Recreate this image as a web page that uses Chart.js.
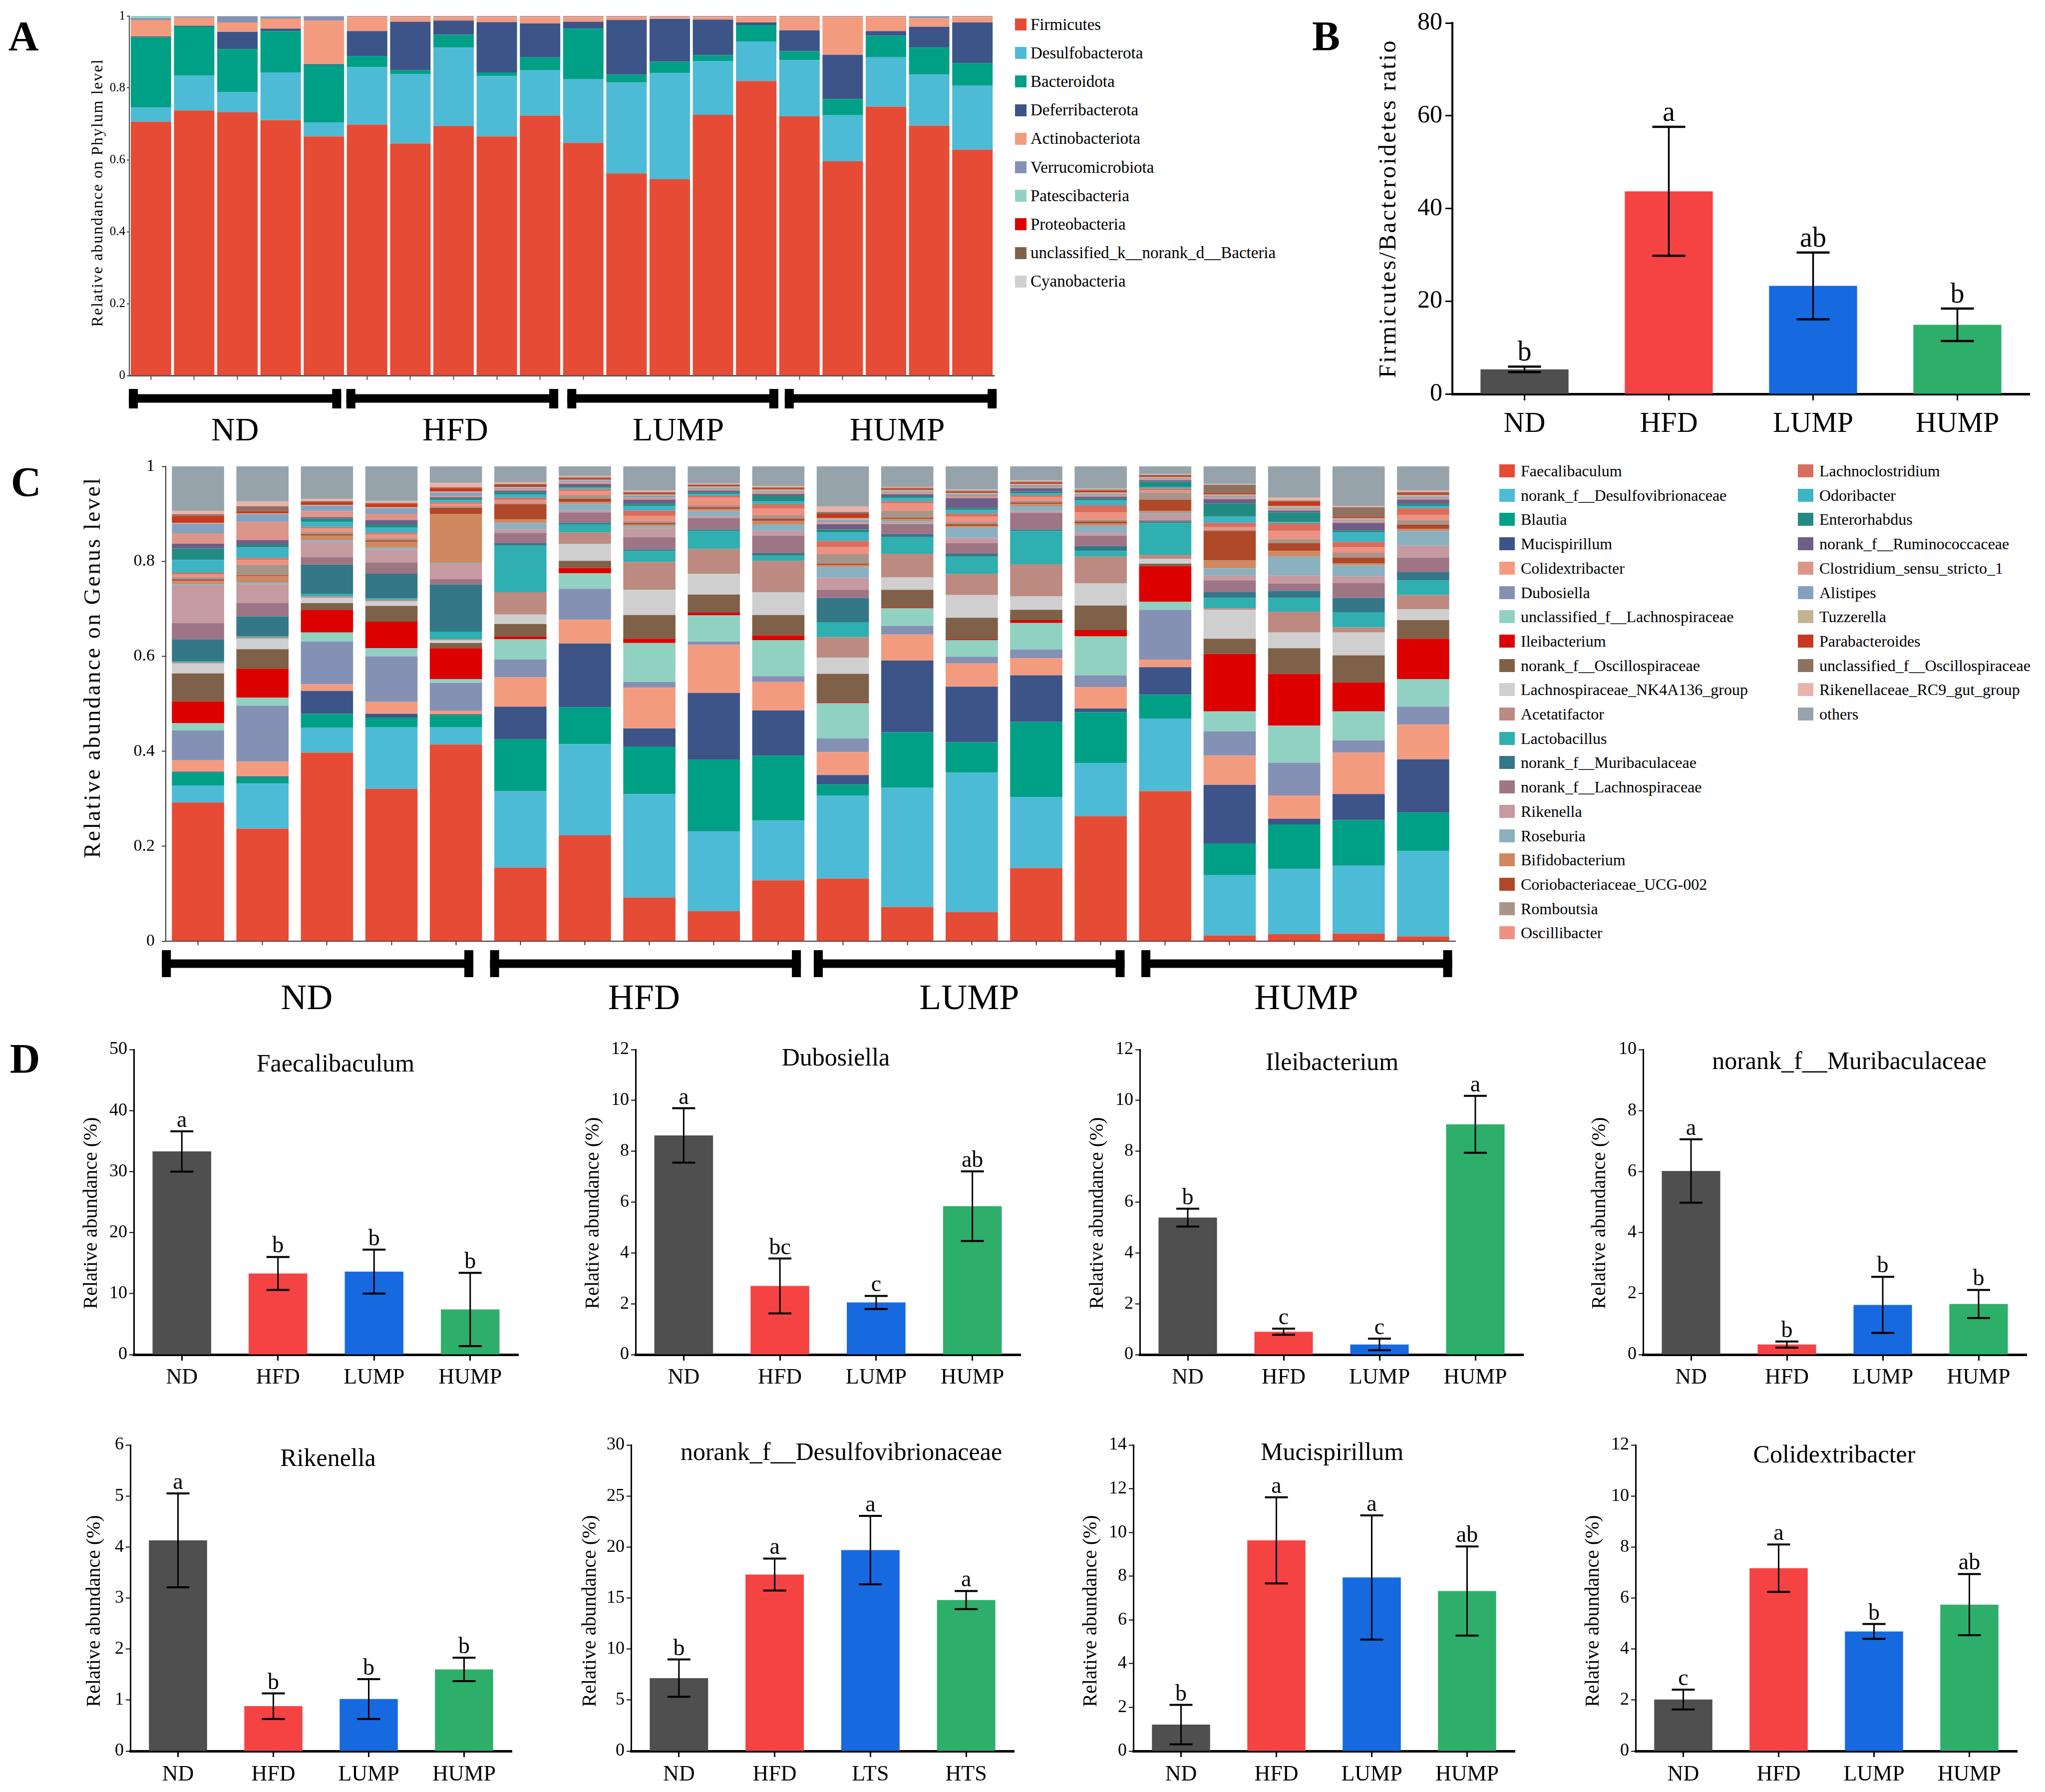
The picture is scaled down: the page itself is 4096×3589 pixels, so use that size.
<!DOCTYPE html>
<html><head><meta charset="utf-8"><title>Gut microbiota composition</title>
<script src="https://cdn.jsdelivr.net/npm/chart.js@4.4.1/dist/chart.umd.min.js"></script>
<style>
html,body{margin:0;padding:0;background:#fff}
body{position:relative;width:4096px;height:3589px;overflow:hidden;font-family:"Liberation Serif","Times New Roman",serif;color:#000}
canvas{position:absolute}
.t{position:absolute;white-space:nowrap;line-height:1}
.c{transform:translate(-50%,-50%)}
.sw{position:absolute}
</style></head><body>
<script>
// ---------------- DATA ----------------
const SAMPLES = ['ND1','ND2','ND3','ND4','ND5','HFD1','HFD2','HFD3','HFD4','HFD5','LUMP1','LUMP2','LUMP3','LUMP4','LUMP5','HUMP1','HUMP2','HUMP3','HUMP4','HUMP5'];
const GROUPS = ['ND','HFD','LUMP','HUMP'];
const SAMPLES_PER_GROUP = 5;

// Panel A – phylum level
const PHYLUM_NAMES = ['Firmicutes','Desulfobacterota','Bacteroidota','Deferribacterota','Actinobacteriota','Verrucomicrobiota','Patescibacteria','Proteobacteria','unclassified_k__norank_d__Bacteria','Cyanobacteria'];
const PHYLUM_COLORS = ['#E64B35','#4DBBD5','#00A087','#3C5488','#F39B7F','#8491B4','#91D1C2','#DC0000','#7E6148','#CFCFCF'];
const phy_Firmicutes   = [.706,.737,.732,.710,.665,.698,.645,.694,.665,.723,.647,.562,.546,.725,.819,.721,.596,.748,.695,.628];
const phy_Desulfo      = [.039,.097,.057,.133,.039,.160,.194,.218,.168,.126,.177,.253,.295,.150,.110,.156,.128,.137,.142,.179];
const phy_Bacteroidota = [.196,.137,.119,.115,.160,.030,.010,.036,.010,.036,.141,.022,.032,.016,.046,.025,.045,.060,.075,.062];
const phy_Deferri      = [.002,.002,.048,.007,.002,.070,.135,.039,.140,.094,.019,.152,.119,.099,.007,.058,.123,.013,.058,.113];
const phy_Actino       = [.046,.023,.026,.028,.121,.039,.013,.010,.014,.018,.013,.008,.005,.007,.015,.037,.105,.039,.024,.015];
const phy_Verruco      = [.005,.002,.017,.005,.012,.001,.001,.001,.001,.001,.001,.001,.001,.001,.001,.001,.001,.001,.005,.001];
const phy_Patesci      = [.006,.002,.001,.002,.001,.001,.001,.001,.001,.001,.001,.001,.001,.001,.001,.001,.001,.001,.001,.001];
const phy_Proteo       = [.000,.000,.000,.000,.000,.001,.001,.001,.001,.001,.001,.001,.001,.001,.001,.001,.001,.001,.000,.001];
const phy_Unclass      = [.000,.000,.000,.000,.000,.000,.000,.000,.000,.000,.000,.000,.000,.000,.000,.000,.000,.000,.000,.000];
const phy_Cyano        = [.000,.000,.000,.000,.000,.000,.000,.000,.000,.000,.000,.000,.000,.000,.000,.000,.000,.000,.000,.000];
const PHYLUM_VALUES = [phy_Firmicutes,phy_Desulfo,phy_Bacteroidota,phy_Deferri,phy_Actino,phy_Verruco,phy_Patesci,phy_Proteo,phy_Unclass,phy_Cyano];
const PHYLUM_TICKS = [0,0.2,0.4,0.6,0.8,1];

// Panel B – Firmicutes/Bacteroidetes ratio
const FB_GROUPS = ['ND','HFD','LUMP','HUMP'];
const FB_MEAN = [5.3,43.7,23.3,14.9];
const FB_SD = [0.6,13.9,7.2,3.5];
const FB_LETTERS = ['b','a','ab','b'];
const FB_TICKS = [0,20,40,60,80];

// Panel C – genus level
const GENUS_NAMES = ['Faecalibaculum','norank_f__Desulfovibrionaceae','Blautia','Mucispirillum','Colidextribacter','Dubosiella','unclassified_f__Lachnospiraceae','Ileibacterium','norank_f__Oscillospiraceae','Lachnospiraceae_NK4A136_group','Acetatifactor','Lactobacillus','norank_f__Muribaculaceae','norank_f__Lachnospiraceae','Rikenella','Roseburia','Bifidobacterium','Coriobacteriaceae_UCG-002','Romboutsia','Oscillibacter','Lachnoclostridium','Odoribacter','Enterorhabdus','norank_f__Ruminococcaceae','Clostridium_sensu_stricto_1','Alistipes','Tuzzerella','Parabacteroides','unclassified_f__Oscillospiraceae','Rikenellaceae_RC9_gut_group','others'];
const GENUS_COLORS = ['#E64B35','#4DBBD5','#00A087','#3C5488','#F39B7F','#8491B4','#91D1C2','#DC0000','#7E6148','#CFCFCF','#BC8A80','#2FAFAF','#347787','#9E7585','#C59AA0','#8BB0C0','#D08860','#B0482A','#A8958A','#EE9180','#D96E5E','#3CB4C3','#238A82','#6E5E88','#DE9589','#84A2BF','#C2B393','#C8371E','#8D7262','#E8B3AA','#97A3AB'];
const gen_Faecalibaculum   = [.292,.237,.397,.321,.414,.155,.223,.092,.063,.128,.132,.072,.061,.154,.263,.316,.012,.015,.016,.010];
const gen_Desulfovibrionaceae = [.036,.095,.053,.130,.037,.161,.192,.218,.168,.126,.175,.252,.294,.150,.112,.153,.127,.137,.143,.180];
const gen_Blautia          = [.027,.014,.029,.020,.025,.109,.078,.100,.151,.137,.023,.116,.064,.158,.107,.050,.067,.094,.096,.081];
const gen_Mucispirillum    = [.002,.001,.048,.008,.002,.069,.134,.038,.141,.095,.020,.151,.117,.098,.008,.058,.123,.012,.055,.112];
const gen_Colidextribacter = [.024,.031,.014,.025,.007,.062,.050,.086,.101,.060,.048,.055,.049,.036,.045,.016,.062,.049,.087,.073];
const gen_Dubosiella       = [.063,.118,.090,.096,.059,.037,.065,.012,.007,.012,.029,.018,.014,.018,.025,.105,.051,.069,.026,.038];
const gen_uncl_Lachnospiraceae = [.015,.017,.019,.017,.008,.043,.033,.082,.055,.076,.074,.037,.035,.056,.082,.017,.042,.078,.061,.058];
const gen_Ileibacterium    = [.046,.061,.048,.056,.065,.006,.011,.009,.006,.010,.002,.002,.002,.006,.013,.075,.121,.109,.061,.085];
const gen_norank_Oscillospiraceae = [.059,.041,.014,.033,.011,.026,.015,.050,.038,.043,.060,.037,.045,.022,.052,.005,.032,.054,.057,.039];
const gen_NK4A136          = [.021,.022,.011,.010,.006,.020,.036,.053,.044,.048,.034,.026,.048,.028,.047,.010,.061,.033,.048,.023];
const gen_Acetatifactor    = [.002,.003,.003,.003,.002,.047,.024,.059,.052,.066,.043,.050,.045,.068,.056,.009,.003,.044,.011,.030];
const gen_Lactobacillus    = [.002,.002,.005,.003,.016,.098,.017,.023,.038,.011,.032,.035,.036,.070,.012,.067,.022,.029,.032,.031];
const gen_Muribaculaceae   = [.047,.042,.062,.052,.099,.005,.003,.003,.003,.005,.051,.006,.006,.003,.010,.003,.012,.015,.030,.017];
const gen_norank_Lachnospiraceae = [.034,.028,.016,.023,.012,.022,.022,.026,.024,.037,.017,.021,.022,.035,.022,.003,.025,.015,.031,.031];
const gen_Rikenella        = [.080,.040,.032,.027,.032,.007,.004,.019,.004,.010,.025,.003,.011,.004,.006,.011,.010,.017,.014,.025];
const gen_Roseburia        = [.003,.004,.003,.004,.002,.014,.014,.004,.011,.014,.023,.004,.022,.011,.016,.004,.015,.040,.024,.031];
const gen_Bifidobacterium  = [.006,.013,.010,.013,.103,.007,.004,.004,.004,.007,.004,.004,.004,.004,.004,.004,.017,.012,.004,.004];
const gen_Coriobacteriaceae = [.003,.002,.003,.003,.013,.032,.007,.003,.004,.005,.003,.003,.003,.003,.004,.024,.062,.016,.012,.009];
const gen_Romboutsia       = [.005,.022,.005,.005,.003,.003,.007,.004,.004,.007,.020,.015,.005,.004,.004,.015,.003,.009,.010,.010];
const gen_Oscillibacter    = [.006,.010,.007,.008,.005,.006,.009,.011,.016,.014,.015,.015,.011,.007,.015,.004,.005,.017,.011,.011];
const gen_Lachnoclostridium = [.003,.004,.003,.003,.003,.005,.004,.011,.004,.009,.013,.004,.007,.004,.015,.004,.009,.016,.012,.014];
const gen_Odoribacter      = [.027,.022,.011,.011,.005,.007,.003,.010,.004,.006,.018,.007,.007,.004,.010,.004,.013,.003,.020,.005];
const gen_Enterorhabdus    = [.024,.006,.007,.007,.004,.004,.003,.004,.004,.012,.006,.004,.004,.004,.004,.011,.028,.020,.004,.004];
const gen_Ruminococcaceae  = [.010,.010,.003,.009,.002,.004,.005,.009,.003,.004,.011,.004,.021,.007,.004,.003,.009,.004,.016,.009];
const gen_Clostridium_ss1  = [.022,.038,.013,.013,.003,.003,.004,.004,.003,.003,.004,.003,.004,.003,.003,.003,.004,.003,.004,.003];
const gen_Alistipes        = [.020,.016,.011,.012,.007,.003,.003,.004,.003,.003,.005,.003,.004,.003,.003,.002,.003,.003,.003,.003];
const gen_Tuzzerella       = [.002,.002,.002,.002,.002,.002,.002,.003,.003,.003,.004,.003,.003,.003,.003,.002,.003,.004,.003,.004];
const gen_Parabacteroides  = [.014,.005,.006,.007,.007,.004,.003,.003,.002,.003,.009,.003,.003,.003,.004,.002,.003,.009,.003,.004];
const gen_uncl_Oscillospiraceae = [.004,.010,.002,.002,.002,.002,.002,.002,.002,.002,.004,.002,.002,.002,.002,.002,.017,.002,.020,.002];
const gen_RC9              = [.007,.010,.004,.004,.009,.003,.003,.003,.002,.003,.012,.002,.002,.002,.002,.002,.002,.006,.003,.003];
const gen_others           = [.094,.074,.069,.073,.035,.034,.020,.051,.036,.041,.084,.043,.049,.030,.047,.016,.037,.066,.083,.051];
const GENUS_VALUES = [gen_Faecalibaculum,gen_Desulfovibrionaceae,gen_Blautia,gen_Mucispirillum,gen_Colidextribacter,gen_Dubosiella,gen_uncl_Lachnospiraceae,gen_Ileibacterium,gen_norank_Oscillospiraceae,gen_NK4A136,gen_Acetatifactor,gen_Lactobacillus,gen_Muribaculaceae,gen_norank_Lachnospiraceae,gen_Rikenella,gen_Roseburia,gen_Bifidobacterium,gen_Coriobacteriaceae,gen_Romboutsia,gen_Oscillibacter,gen_Lachnoclostridium,gen_Odoribacter,gen_Enterorhabdus,gen_Ruminococcaceae,gen_Clostridium_ss1,gen_Alistipes,gen_Tuzzerella,gen_Parabacteroides,gen_uncl_Oscillospiraceae,gen_RC9,gen_others];
const GENUS_TICKS = [0,0.2,0.4,0.6,0.8,1];

// Panel D – selected genera (relative abundance %)
const D_GROUPS = ['ND','HFD','LUMP','HUMP'];
const D_GROUPS_ALT = ['ND','HFD','LTS','HTS'];
const GROUP_COLORS = ['#4f4f4f','#f54343','#1769e0','#2eae6b'];
const faec_mean = [33.3,13.3,13.6,7.4],  faec_sd = [3.3,2.7,3.6,6.0],   faec_letters = ['a','b','b','b'],  faec_ticks = [0,10,20,30,40,50];
const dubo_mean = [8.62,2.7,2.05,5.84],  dubo_sd = [1.07,1.08,0.26,1.37], dubo_letters = ['a','bc','c','ab'], dubo_ticks = [0,2,4,6,8,10,12];
const ileo_mean = [5.39,0.9,0.4,9.06],   ileo_sd = [0.35,0.12,0.23,1.12], ileo_letters = ['b','c','c','a'],  ileo_ticks = [0,2,4,6,8,10,12];
const muri_mean = [6.02,0.33,1.63,1.66], muri_sd = [1.04,0.1,0.92,0.46],  muri_letters = ['a','b','b','b'],  muri_ticks = [0,2,4,6,8,10];
const rike_mean = [4.13,0.88,1.02,1.6],  rike_sd = [0.92,0.25,0.39,0.23], rike_letters = ['a','b','b','b'],  rike_ticks = [0,1,2,3,4,5,6];
const desu_mean = [7.15,17.3,19.7,14.8], desu_sd = [1.83,1.57,3.35,0.89], desu_letters = ['b','a','a','a'],  desu_ticks = [0,5,10,15,20,25,30];
const muci_mean = [1.21,9.64,7.94,7.32], muci_sd = [0.9,1.97,2.84,2.04],  muci_letters = ['b','a','a','ab'], muci_ticks = [0,2,4,6,8,10,12,14];
const coli_mean = [2.02,7.17,4.69,5.74], coli_sd = [0.39,0.93,0.29,1.2],  coli_letters = ['c','a','b','ab'], coli_ticks = [0,2,4,6,8,10,12];

// ---------------- RENDERING ----------------
const SERIF = '"Liberation Serif","Times New Roman",serif';
Chart.defaults.font.family = SERIF;
Chart.defaults.color = '#000';

// y-axis title styling (letter spacing + shift along the axis)
const titleStyle = {
  id: 'titleStyle',
  beforeDraw(chart, args, o) {
    const s = chart.scales.y;
    if (!s || s.__wrapped) return;
    const orig = s.drawTitle;
    s.drawTitle = function () {
      const c = this.ctx; c.save();
      c.letterSpacing = (o.spacing || 0) + 'px';
      c.translate(0, o.shift || 0);
      orig.call(this); c.restore();
    };
    s.__wrapped = true;
  }
};
// error bars + significance letters
const errorBars = {
  id: 'errorBars',
  afterDatasetsDraw(chart, args, o) {
    if (!o || !o.sd) return;
    const ctx = chart.ctx, ys = chart.scales.y, meta = chart.getDatasetMeta(0);
    const vals = chart.data.datasets[0].data;
    ctx.save();
    ctx.strokeStyle = '#000'; ctx.fillStyle = '#000';
    ctx.font = o.fontSize + 'px ' + SERIF; ctx.textAlign = 'center'; ctx.textBaseline = 'alphabetic';
    meta.data.forEach((bar, i) => {
      const x = bar.x, top = ys.getPixelForValue(vals[i] + o.sd[i]), bot = ys.getPixelForValue(vals[i] - o.sd[i]);
      ctx.lineWidth = o.lineW; ctx.beginPath(); ctx.moveTo(x, top); ctx.lineTo(x, bot); ctx.stroke();
      ctx.lineWidth = o.capLW; ctx.beginPath();
      ctx.moveTo(x - o.capW / 2, top); ctx.lineTo(x + o.capW / 2, top);
      ctx.moveTo(x - o.capW / 2, bot); ctx.lineTo(x + o.capW / 2, bot); ctx.stroke();
      ctx.fillText(o.letters[i], x, top - o.gap);
    });
    ctx.restore();
  }
};
// group brackets and labels under stacked bars
const groupBrackets = {
  id: 'groupBrackets',
  afterDraw(chart, args, o) {
    if (!o || !o.groups) return;
    const ctx = chart.ctx, xs = chart.scales.x, b = chart.chartArea.bottom;
    const cat = xs.getPixelForValue(1) - xs.getPixelForValue(0);
    ctx.save(); ctx.fillStyle = '#000';
    ctx.font = o.fontSize + 'px ' + SERIF; ctx.textAlign = 'center'; ctx.textBaseline = 'middle';
    o.groups.forEach((g, gi) => {
      const x0 = xs.getPixelForValue(g.from) - cat * o.padL[gi], x1 = xs.getPixelForValue(g.to) + cat * o.padR[gi];
      ctx.fillRect(x0, b + o.barY - o.barH / 2, x1 - x0, o.barH);
      ctx.fillRect(x0, b + o.capTop, o.capW, o.capBot - o.capTop);
      ctx.fillRect(x1 - o.capW, b + o.capTop, o.capW, o.capBot - o.capTop);
      ctx.fillText(g.label, (x0 + x1) / 2 + o.labelDx[gi], b + o.labelY);
    });
    ctx.restore();
  }
};

function buildChart(box, area, data, x, y, pluginOpts) {
  const cv = document.createElement('canvas');
  cv.width = box.w; cv.height = box.h;
  Object.assign(cv.style, { left: box.x + 'px', top: box.y + 'px', width: box.w + 'px', height: box.h + 'px' });
  document.body.appendChild(cv);
  const yW = area.l - box.x, xH = box.y + box.h - area.b;
  y.afterFit = s => { s.width = yW; };
  x.afterFit = s => { s.height = xH; };
  return new Chart(cv.getContext('2d'), {
    type: 'bar', data,
    options: {
      responsive: false, animation: false, devicePixelRatio: 1, events: [],
      layout: { padding: { left: 0, bottom: 0, top: area.t - box.y, right: box.x + box.w - area.r } },
      scales: { x, y },
      plugins: Object.assign({ legend: { display: false }, tooltip: { enabled: false }, title: { display: false } }, pluginOpts)
    },
    plugins: [titleStyle, errorBars, groupBrackets]
  });
}
function yScale(o) {
  return {
    min: o.ticks[0], max: o.ticks[o.ticks.length - 1], stacked: !!o.stacked,
    afterBuildTicks: s => { s.ticks = o.ticks.map(v => ({ value: v })); },
    ticks: { font: { size: o.tickSize, lineHeight: 1 }, padding: o.tickPad, color: '#000', callback: v => String(v) },
    grid: { display: true, drawOnChartArea: false, drawTicks: true, tickLength: o.tickLen, tickWidth: o.tickW, tickColor: o.color },
    border: { display: true, color: o.color, width: o.borderW },
    title: { display: true, text: o.title, color: '#000', font: { size: o.titleSize, lineHeight: 1 }, padding: { top: o.titlePad, bottom: 0 } }
  };
}
function xScale(o) {
  return {
    stacked: !!o.stacked, offset: true,
    ticks: { display: o.showLabels, font: { size: o.tickSize || 10, lineHeight: 1 }, padding: o.tickPad || 0, color: '#000', maxRotation: 0, autoSkip: false },
    grid: { display: true, offset: false, drawOnChartArea: false, drawTicks: true, tickLength: o.tickLen, tickWidth: o.tickW, tickColor: o.color },
    border: { display: true, color: o.color, width: o.borderW }
  };
}
function text(str, x, y, size, extra) {
  const d = document.createElement('div');
  d.className = 't c'; d.textContent = str;
  d.style.left = x + 'px'; d.style.top = y + 'px'; d.style.fontSize = size + 'px';
  if (extra) Object.assign(d.style, extra);
  document.body.appendChild(d);
}
function legend(names, colors, L) {
  names.forEach((n, i) => {
    const col = Math.floor(i / L.perCol), row = i % L.perCol, cy = L.y0 + row * L.pitch;
    const s = document.createElement('div'); s.className = 'sw';
    Object.assign(s.style, { left: L.sx[col] + 'px', top: (cy - L.sh / 2) + 'px', width: L.sw + 'px', height: L.sh + 'px', background: colors[i] });
    document.body.appendChild(s);
    const t = document.createElement('div'); t.className = 't'; t.textContent = n;
    Object.assign(t.style, { left: L.tx[col] + 'px', top: (cy - L.size / 2) + 'px', fontSize: L.size + 'px' });
    document.body.appendChild(t);
  });
}
const GROUP_RANGES = GROUPS.map((g, i) => ({ label: g, from: i * SAMPLES_PER_GROUP, to: i * SAMPLES_PER_GROUP + SAMPLES_PER_GROUP - 1 }));

// ---- Panel A ----
(function () {
  const box = { x: 100, y: 0, w: 1925, h: 920 }, area = { l: 259, r: 1991, t: 32, b: 752 };
  const data = { labels: SAMPLES, datasets: PHYLUM_NAMES.map((n, i) => ({ label: n, data: PHYLUM_VALUES[i], backgroundColor: PHYLUM_COLORS[i], borderWidth: 0, barPercentage: 0.935, categoryPercentage: 1, stack: 's' })) };
  const y = yScale({ ticks: PHYLUM_TICKS, stacked: true, tickSize: 25, tickPad: 3, tickLen: 5, tickW: 2, color: '#444', borderW: 2, title: 'Relative abundance on Phylum level', titleSize: 32, titlePad: 197 - box.x - 16 });
  const x = xScale({ stacked: true, showLabels: false, tickLen: 9, tickW: 2, color: '#555', borderW: 3 });
  buildChart(box, area, data, x, y, {
    titleStyle: { spacing: 2, shift: -6 },
    groupBrackets: { groups: GROUP_RANGES, padL: [0.51, 0.48, 0.37, 0.34], padR: [0.40, 0.42, 0.51, 0.56], labelDx: [0, 6, 11, 13], barY: 46, barH: 17, capTop: 27, capBot: 66, capW: 18, labelY: 113, fontSize: 66 }
  });
  legend(PHYLUM_NAMES, PHYLUM_COLORS, { perCol: 10, y0: 49, pitch: 57.2, sx: [2033], tx: [2064], sw: 23, sh: 24, size: 33 });
})();

// ---- Panel B ----
(function () {
  const box = { x: 2700, y: 0, w: 1396, h: 900 }, area = { l: 2909, r: 4065, t: 46, b: 789 };
  const data = { labels: FB_GROUPS, datasets: [{ data: FB_MEAN, backgroundColor: GROUP_COLORS, borderWidth: 0, barPercentage: 0.61, categoryPercentage: 1 }] };
  const y = yScale({ ticks: FB_TICKS, tickSize: 50, tickPad: 6, tickLen: 14, tickW: 3, color: '#000', borderW: 4, title: 'Firmicutes/Bacteroidetes ratio', titleSize: 48, titlePad: 2782 - box.x - 24 });
  const x = xScale({ showLabels: true, tickSize: 58, tickPad: 19, tickLen: 13, tickW: 3, color: '#000', borderW: 5 });
  buildChart(box, area, data, x, y, {
    titleStyle: { spacing: 3.3, shift: 0 },
    errorBars: { sd: FB_SD, letters: FB_LETTERS, lineW: 3.5, capLW: 4.5, capW: 66, gap: 12, fontSize: 56 }
  });
})();

// ---- Panel C ----
(function () {
  const box = { x: 100, y: 900, w: 2840, h: 1180 }, area = { l: 332, r: 2915, t: 934, b: 1885 };
  const data = { labels: SAMPLES, datasets: GENUS_NAMES.map((n, i) => ({ label: n, data: GENUS_VALUES[i], backgroundColor: GENUS_COLORS[i], borderWidth: 0, barPercentage: 0.81, categoryPercentage: 1, stack: 's' })) };
  const y = yScale({ ticks: GENUS_TICKS, stacked: true, tickSize: 34, tickPad: 14, tickLen: 8, tickW: 2, color: '#333', borderW: 2, title: 'Relative abundance on Genus level', titleSize: 46, titlePad: 188 - box.x - 23 });
  const x = xScale({ stacked: true, showLabels: false, tickLen: 8, tickW: 2, color: '#333', borderW: 2 });
  buildChart(box, area, data, x, y, {
    titleStyle: { spacing: 3.5, shift: -73 },
    groupBrackets: { groups: GROUP_RANGES, padL: [0.56, 0.47, 0.45, 0.37], padR: [0.27, 0.35, 0.37, 0.45], labelDx: [-22, -3, 0, 19], barY: 45, barH: 17, capTop: 18, capBot: 72, capW: 18, labelY: 117, fontSize: 72 }
  });
  legend(GENUS_NAMES, GENUS_COLORS, { perCol: 20, y0: 943, pitch: 48.7, sx: [3003, 3601], tx: [3046, 3644], sw: 31, sh: 26, size: 32 });
})();

// ---- Panel D ----
const D_ROWS = [
  { t: 2102, b: 2713, y: 2060, h: 780, pad: 12, shift: 22 },
  { t: 2894, b: 3507, y: 2850, h: 739, pad: 13, shift: 26 }
];
const D_PANELS = [
  { title: 'Faecalibaculum', groups: D_GROUPS, mean: faec_mean, sd: faec_sd, letters: faec_letters, ticks: faec_ticks, row: 0, l: 268, r: 1038, ytx: 183, tx: 672, ty: 2129 },
  { title: 'Dubosiella', groups: D_GROUPS, mean: dubo_mean, sd: dubo_sd, letters: dubo_letters, ticks: dubo_ticks, row: 0, l: 1273, r: 2044, ytx: 1188, tx: 1674, ty: 2117 },
  { title: 'Ileibacterium', groups: D_GROUPS, mean: ileo_mean, sd: ileo_sd, letters: ileo_letters, ticks: ileo_ticks, row: 0, l: 2283, r: 3051, ytx: 2198, tx: 2668, ty: 2126 },
  { title: 'norank_f__Muribaculaceae', groups: D_GROUPS, mean: muri_mean, sd: muri_sd, letters: muri_letters, ticks: muri_ticks, row: 0, l: 3291, r: 4059, ytx: 3204, tx: 3704, ty: 2124 },
  { title: 'Rikenella', groups: D_GROUPS, mean: rike_mean, sd: rike_sd, letters: rike_letters, ticks: rike_ticks, row: 1, l: 261, r: 1025, ytx: 189, tx: 657, ty: 2919 },
  { title: 'norank_f__Desulfovibrionaceae', groups: D_GROUPS_ALT, mean: desu_mean, sd: desu_sd, letters: desu_letters, ticks: desu_ticks, row: 1, l: 1264, r: 2031, ytx: 1182, tx: 1685, ty: 2907 },
  { title: 'Mucispirillum', groups: D_GROUPS, mean: muci_mean, sd: muci_sd, letters: muci_letters, ticks: muci_ticks, row: 1, l: 2270, r: 3034, ytx: 2185, tx: 2668, ty: 2907 },
  { title: 'Colidextribacter', groups: D_GROUPS, mean: coli_mean, sd: coli_sd, letters: coli_letters, ticks: coli_ticks, row: 1, l: 3276, r: 4040, ytx: 3191, tx: 3674, ty: 2912 }
];
D_PANELS.forEach(p => {
  const R = D_ROWS[p.row];
  const box = { x: p.l - 200, y: R.y, w: p.r - (p.l - 200) + 30, h: R.h }, area = { l: p.l, r: p.r, t: R.t, b: R.b };
  const data = { labels: p.groups, datasets: [{ data: p.mean, backgroundColor: GROUP_COLORS, borderWidth: 0, barPercentage: 0.61, categoryPercentage: 1 }] };
  const y = yScale({ ticks: p.ticks, tickSize: 36, tickPad: 4, tickLen: 9, tickW: 2, color: '#000', borderW: 3, title: 'Relative abundance (%)', titleSize: 40, titlePad: p.ytx - box.x - 20 });
  const x = xScale({ showLabels: true, tickSize: 44, tickPad: R.pad, tickLen: 12, tickW: 3, color: '#000', borderW: 5 });
  buildChart(box, area, data, x, y, {
    titleStyle: { spacing: 0, shift: R.shift },
    errorBars: { sd: p.sd, letters: p.letters, lineW: 3, capLW: 4, capW: 46, gap: 9, fontSize: 46 }
  });
  text(p.title, p.tx, p.ty, 50);
});

// panel letters
text('A', 47, 73, 84, { fontWeight: 'bold' });
text('B', 2656, 73, 84, { fontWeight: 'bold' });
text('C', 52, 966, 84, { fontWeight: 'bold' });
text('D', 50, 2121, 84, { fontWeight: 'bold' });
</script>
</body></html>
